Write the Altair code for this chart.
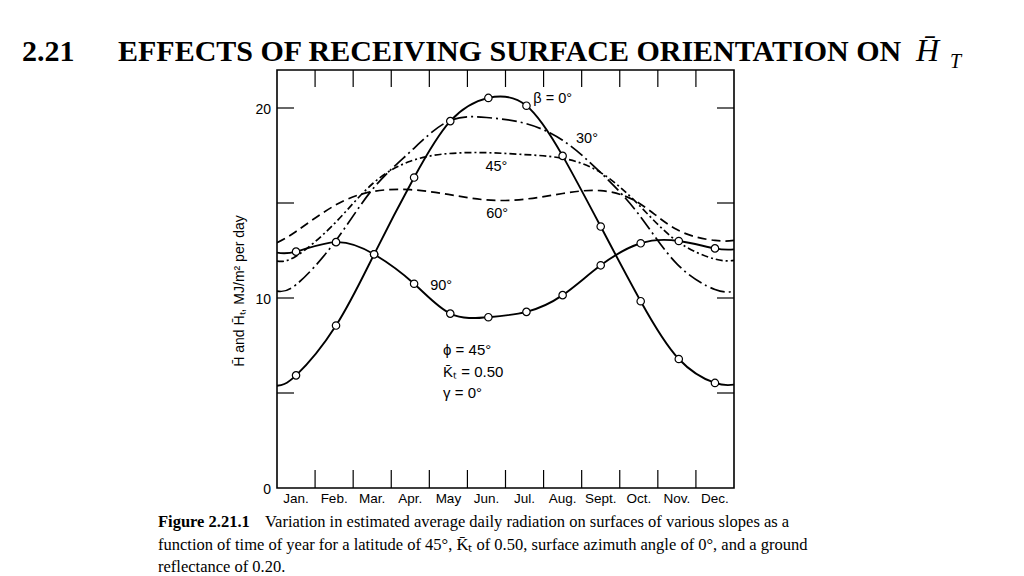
import altair as alt
import pandas as pd

# ---------------- data ----------------
months = ["Jan.", "Feb.", "Mar.", "Apr.", "May", "Jun.", "Jul.", "Aug.", "Sept.", "Oct.", "Nov.", "Dec."]
month_mid = [0.5, 1.5, 2.5, 3.5, 4.5, 5.5, 6.5, 7.5, 8.5, 9.5, 10.5, 11.5]
month_bounds = [1, 2, 3, 4, 5, 6, 7, 8, 9, 10, 11]
y_ticks = [5, 10, 15, 20]
y_labels = [0, 10, 20]

# positions (in months) of the marked monthly values
point_x = [0.5, 1.55, 2.55, 3.6, 4.55, 5.55, 6.55, 7.5, 8.5, 9.55, 10.55, 11.5]
# beta = 0 (horizontal surface)
h0_points = [5.93, 8.55, 12.30, 16.34, 19.31, 20.53, 20.12, 17.48, 13.76, 9.83, 6.79, 5.53]
h0_ends = [5.38, 5.44]
# beta = 90 (vertical surface)
h90_points = [12.44, 12.94, 12.30, 10.75, 9.18, 8.99, 9.27, 10.15, 11.72, 12.88, 13.0, 12.61]
h90_ends = [12.39, 12.56]

# unmarked curves, read at year ends and mid-months
curve_x = [0, 0.5, 1.5, 2.5, 3.5, 4.5, 5.5, 6.5, 7.5, 8.5, 9.5, 10.5, 11.5, 12]
h30 = [10.36, 10.7, 12.9, 15.7, 17.7, 19.3, 19.5, 19.2, 18.3, 16.6, 14.4, 11.8, 10.45, 10.36]
h45 = [11.94, 12.2, 13.9, 16.0, 17.2, 17.6, 17.65, 17.55, 17.35, 16.6, 14.9, 13.0, 12.05, 11.98]
h60 = [12.91, 13.5, 14.85, 15.6, 15.7, 15.45, 15.16, 15.2, 15.5, 15.65, 15.0, 13.6, 13.03, 13.03]

curve_labels = ["\u03b2 = 0\u00b0", "30\u00b0", "45\u00b0", "60\u00b0", "90\u00b0"]
curve_label_x = [6.73, 8.14, 5.76, 5.78, 4.31]
curve_label_y = [20.47, 18.36, 16.89, 14.41, 10.61]
curve_label_align = ["left", "center", "center", "center", "center"]

param_labels = ["\u03d5 = 45\u00b0", "K\u0304\u209c = 0.50", "\u03b3 = 0\u00b0"]
param_x = [4.36, 4.36, 4.36]
param_y = [7.28, 6.08, 5.01]

W, H = 457, 418
SANS = "Liberation Sans"
SERIF = "Liberation Serif"

xs = alt.Scale(domain=[0, 12], nice=False, zero=False)
ys = alt.Scale(domain=[0, 22], nice=False, zero=False)


def line_df(xv, yv):
    return pd.DataFrame({"x": xv, "y": yv})


df0 = line_df([0] + point_x + [12], [h0_ends[0]] + h0_points + [h0_ends[1]])
df90 = line_df([0] + point_x + [12], [h90_ends[0]] + h90_points + [h90_ends[1]])
df30 = line_df(curve_x, h30)
df45 = line_df(curve_x, h45)
df60 = line_df(curve_x, h60)


def curve(df, dash=None, sw=1.9):
    kw = dict(color="black", strokeWidth=sw, interpolate="natural", clip=True)
    if dash:
        kw["strokeDash"] = dash
    return alt.Chart(df).mark_line(**kw).encode(
        x=alt.X("x:Q", scale=xs, axis=None),
        y=alt.Y("y:Q", scale=ys, axis=None),
    )


lines = [
    curve(df60, [9, 5], 1.7),
    curve(df45, [7, 3, 2, 3], 1.7),
    curve(df30, [15, 4, 2, 4], 1.7),
    curve(df90),
    curve(df0),
]

pts = pd.DataFrame({"x": point_x * 2, "y": h0_points + h90_points})
points = alt.Chart(pts).mark_point(filled=True, fill="white", stroke="black",
                                    strokeWidth=1.2, size=55, opacity=1).encode(
    x=alt.X("x:Q", scale=xs, axis=None), y=alt.Y("y:Q", scale=ys, axis=None))

# tick marks (inward)
tb = pd.DataFrame({"m": month_bounds})
xt_bottom = alt.Chart(tb).mark_rule(color="black", strokeWidth=1.2).encode(
    x=alt.X("m:Q", scale=xs, axis=None), y=alt.value(H), y2=alt.value(H - 18))
xt_top = alt.Chart(tb).mark_rule(color="black", strokeWidth=1.2).encode(
    x=alt.X("m:Q", scale=xs, axis=None), y=alt.value(0), y2=alt.value(17))
ty = pd.DataFrame({"v": y_ticks})
yt_left = alt.Chart(ty).mark_rule(color="black", strokeWidth=1.2).encode(
    y=alt.Y("v:Q", scale=ys, axis=None), x=alt.value(0), x2=alt.value(17))
yt_right = alt.Chart(ty).mark_rule(color="black", strokeWidth=1.2).encode(
    y=alt.Y("v:Q", scale=ys, axis=None), x=alt.value(W), x2=alt.value(W - 17))

ylab = alt.Chart(pd.DataFrame({"v": y_labels, "t": [str(v) for v in y_labels]})).mark_text(
    font=SANS, fontSize=14, color="black", align="right", baseline="middle", dy=2).encode(
    y=alt.Y("v:Q", scale=ys, axis=None), x=alt.value(-6), text="t:N")

month_text = alt.Chart(pd.DataFrame({"x": month_mid, "t": months})).mark_text(
    font=SANS, fontSize=13.5, color="black", baseline="middle", align="center").encode(
    x=alt.X("x:Q", scale=xs, axis=None), y=alt.value(H + 11), text="t:N")

cl = pd.DataFrame({"x": curve_label_x, "y": curve_label_y, "t": curve_labels,
                   "a": curve_label_align})
cl_left = alt.Chart(cl[cl.a == "left"]).mark_text(
    font=SANS, fontSize=14.5, color="black", align="left", baseline="middle").encode(
    x=alt.X("x:Q", scale=xs, axis=None), y=alt.Y("y:Q", scale=ys, axis=None), text="t:N")
cl_center = alt.Chart(cl[cl.a == "center"]).mark_text(
    font=SANS, fontSize=14.5, color="black", align="center", baseline="middle").encode(
    x=alt.X("x:Q", scale=xs, axis=None), y=alt.Y("y:Q", scale=ys, axis=None), text="t:N")

params = alt.Chart(pd.DataFrame({"x": param_x, "y": param_y, "t": param_labels})).mark_text(
    font=SANS, fontSize=15, color="black", align="left", baseline="middle").encode(
    x=alt.X("x:Q", scale=xs, axis=None), y=alt.Y("y:Q", scale=ys, axis=None), text="t:N")


def txt(s, px, py, size, font=SERIF, weight="normal", style="normal", align="left",
        baseline="alphabetic", angle=0):
    kw = dict(font=font, fontSize=size, fontWeight=weight, fontStyle=style,
              color="black", align=align, baseline=baseline)
    if angle:
        kw["angle"] = angle
    return alt.Chart(pd.DataFrame({"t": [s]})).mark_text(**kw).encode(
        x=alt.value(px), y=alt.value(py), text="t:N")


OX, OY = 277, 70  # plot origin on page
CANVAS_W, CANVAS_H = 990, 568
texts = [
    txt("2.21", 22 - OX, 61 - OY, 30, weight="bold"),
    txt("EFFECTS OF RECEIVING SURFACE ORIENTATION ON", 118 - OX, 61 - OY, 30, weight="bold"),
    txt("H\u0304", 916 - OX, 61 - OY, 32, style="italic"),
    txt("T", 950 - OX, 68 - OY, 20, style="italic"),
    txt("H\u0304 and H\u0304\u209c, MJ/m\u00b2 per day", 240 - OX, 291 - OY, 14, font=SANS,
        align="center", baseline="middle", angle=270),
    txt("Figure 2.21.1", 158 - OX, 527 - OY, 16.5, weight="bold"),
    txt("Variation in estimated average daily radiation on surfaces of various slopes as a",
        265 - OX, 527 - OY, 16.5),
    txt("function of time of year for a latitude of 45\u00b0, K\u0304\u209c of 0.50, surface azimuth angle of 0\u00b0, and a ground",
        158 - OX, 550 - OY, 16.5),
    txt("reflectance of 0.20.", 158 - OX, 572 - OY, 16.5),
]

chart = alt.layer(
    *lines, points, xt_bottom, xt_top, yt_left, yt_right, ylab,
    month_text, cl_left, cl_center, params, *texts
).properties(
    width=W, height=H,
    padding={"left": OX - 8, "top": OY - 8, "right": CANVAS_W - (OX - 8) - W,
             "bottom": CANVAS_H - (OY - 8) - H},
    autosize="none",
    background="white",
).configure_view(stroke="black", strokeWidth=1.6)

chart.save("out.html", embed_options={"renderer": "svg", "actions": False})
